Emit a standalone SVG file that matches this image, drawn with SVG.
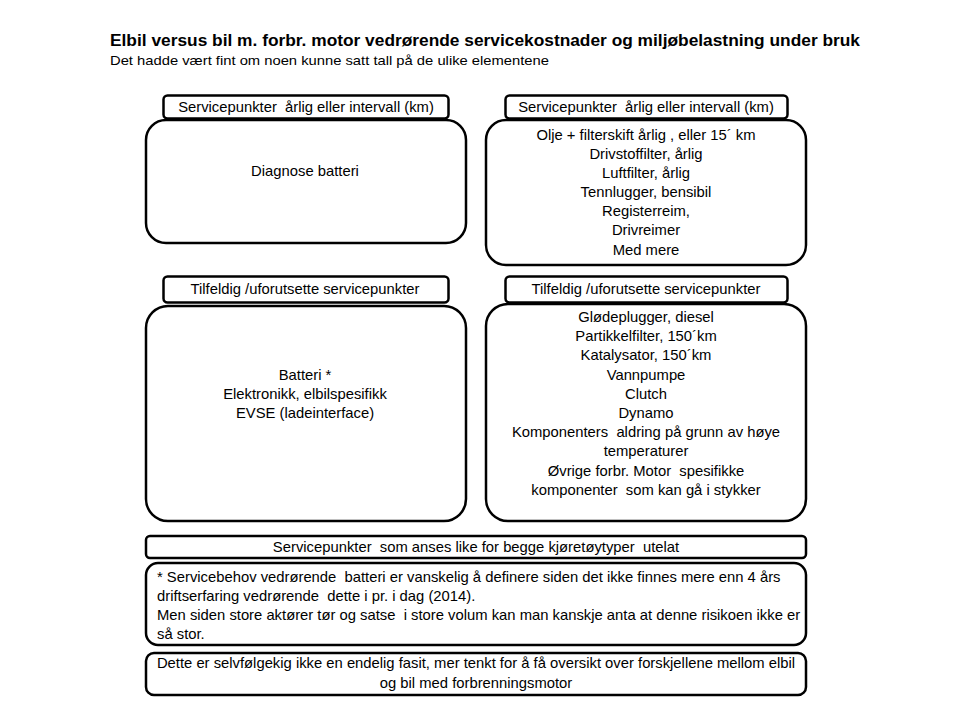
<svg xmlns="http://www.w3.org/2000/svg" width="960" height="720" viewBox="0 0 960 720">
<style>
text{font-family:"Liberation Sans",Arial,sans-serif;fill:#000;white-space:pre}
.t{font-size:14.8px}
.c{text-anchor:middle}
.box{fill:#fff;stroke:#000;stroke-width:2.5}
.hdr{fill:#fff;stroke:#000;stroke-width:2.5}
</style>
<rect width="960" height="720" fill="#fff"/>
<g id="title">
<text x="110" y="46" font-size="16.5" font-weight="bold" textLength="750" lengthAdjust="spacingAndGlyphs">Elbil versus bil m. forbr. motor vedrørende servicekostnader og miljøbelastning under bruk</text>
<text x="110" y="65" font-size="13" textLength="439" lengthAdjust="spacingAndGlyphs">Det hadde vært fint om noen kunne satt tall på de ulike elementene</text>
</g>
<g id="hdr-left-1">
<rect class="hdr" x="163.5" y="95.5" width="285" height="23" rx="4"/>
<text class="t c" x="306" y="112">Servicepunkter  årlig eller intervall (km)</text>
</g>
<g id="box-left-1">
<rect class="box" x="146" y="120" width="320" height="123" rx="20"/>
<text class="t c" x="305" y="176">Diagnose batteri</text>
</g>
<g id="hdr-right-1">
<rect class="hdr" x="505.5" y="95.5" width="282" height="23" rx="4"/>
<text class="t c" x="646" y="112">Servicepunkter  årlig eller intervall (km)</text>
</g>
<g id="box-right-1">
<rect class="box" x="486" y="120" width="320" height="145" rx="20"/>
<text class="t c" x="646" y="140">Olje + filterskift årlig , eller 15´ km</text>
<text class="t c" x="646" y="159">Drivstoffilter, årlig</text>
<text class="t c" x="646" y="178">Luftfilter, årlig</text>
<text class="t c" x="646" y="197">Tennlugger, bensibil</text>
<text class="t c" x="646" y="216">Registerreim,</text>
<text class="t c" x="646" y="235">Drivreimer</text>
<text class="t c" x="646" y="255">Med mere</text>
</g>
<g id="hdr-left-2">
<rect class="hdr" x="163.5" y="276.5" width="285" height="26" rx="4"/>
<text class="t c" x="305" y="294">Tilfeldig /uforutsette servicepunkter</text>
</g>
<g id="box-left-2">
<rect class="box" x="146" y="306" width="320" height="215" rx="22"/>
<text class="t c" x="305" y="380">Batteri *</text>
<text class="t c" x="305" y="399">Elektronikk, elbilspesifikk</text>
<text class="t c" x="305" y="418">EVSE (ladeinterface)</text>
</g>
<g id="hdr-right-2">
<rect class="hdr" x="505.5" y="276.5" width="282" height="26" rx="4"/>
<text class="t c" x="646" y="294">Tilfeldig /uforutsette servicepunkter</text>
</g>
<g id="box-right-2">
<rect class="box" x="486" y="304" width="320" height="217" rx="22"/>
<text class="t c" x="646" y="322">Glødeplugger, diesel</text>
<text class="t c" x="646" y="341">Partikkelfilter, 150´km</text>
<text class="t c" x="646" y="360">Katalysator, 150´km</text>
<text class="t c" x="646" y="380">Vannpumpe</text>
<text class="t c" x="646" y="399">Clutch</text>
<text class="t c" x="646" y="418">Dynamo</text>
<text class="t c" x="646" y="437">Komponenters  aldring på grunn av høye</text>
<text class="t c" x="646" y="456">temperaturer</text>
<text class="t c" x="646" y="476">Øvrige forbr. Motor  spesifikke</text>
<text class="t c" x="646" y="495">komponenter  som kan gå i stykker</text>
</g>
<g id="bar-excluded">
<rect class="hdr" x="146" y="536" width="660" height="22" rx="4"/>
<text class="t c" x="476" y="552">Servicepunkter  som anses like for begge kjøretøytyper  utelat</text>
</g>
<g id="note">
<rect class="box" x="146" y="563" width="660" height="82" rx="12"/>
<text class="t" x="157" y="582">* Servicebehov vedrørende  batteri er vanskelig å definere siden det ikke finnes mere enn 4 års</text>
<text class="t" x="157" y="601">driftserfaring vedrørende  dette i pr. i dag (2014).</text>
<text class="t" x="157" y="620">Men siden store aktører tør og satse  i store volum kan man kanskje anta at denne risikoen ikke er</text>
<text class="t" x="157" y="639">så stor.</text>
</g>
<g id="disclaimer">
<rect class="box" x="146" y="653" width="660" height="42" rx="8"/>
<text class="t c" x="476" y="668">Dette er selvfølgekig ikke en endelig fasit, mer tenkt for å få oversikt over forskjellene mellom elbil</text>
<text class="t c" x="476" y="688">og bil med forbrenningsmotor</text>
</g>
<g id="connectors"></g>
</svg>
